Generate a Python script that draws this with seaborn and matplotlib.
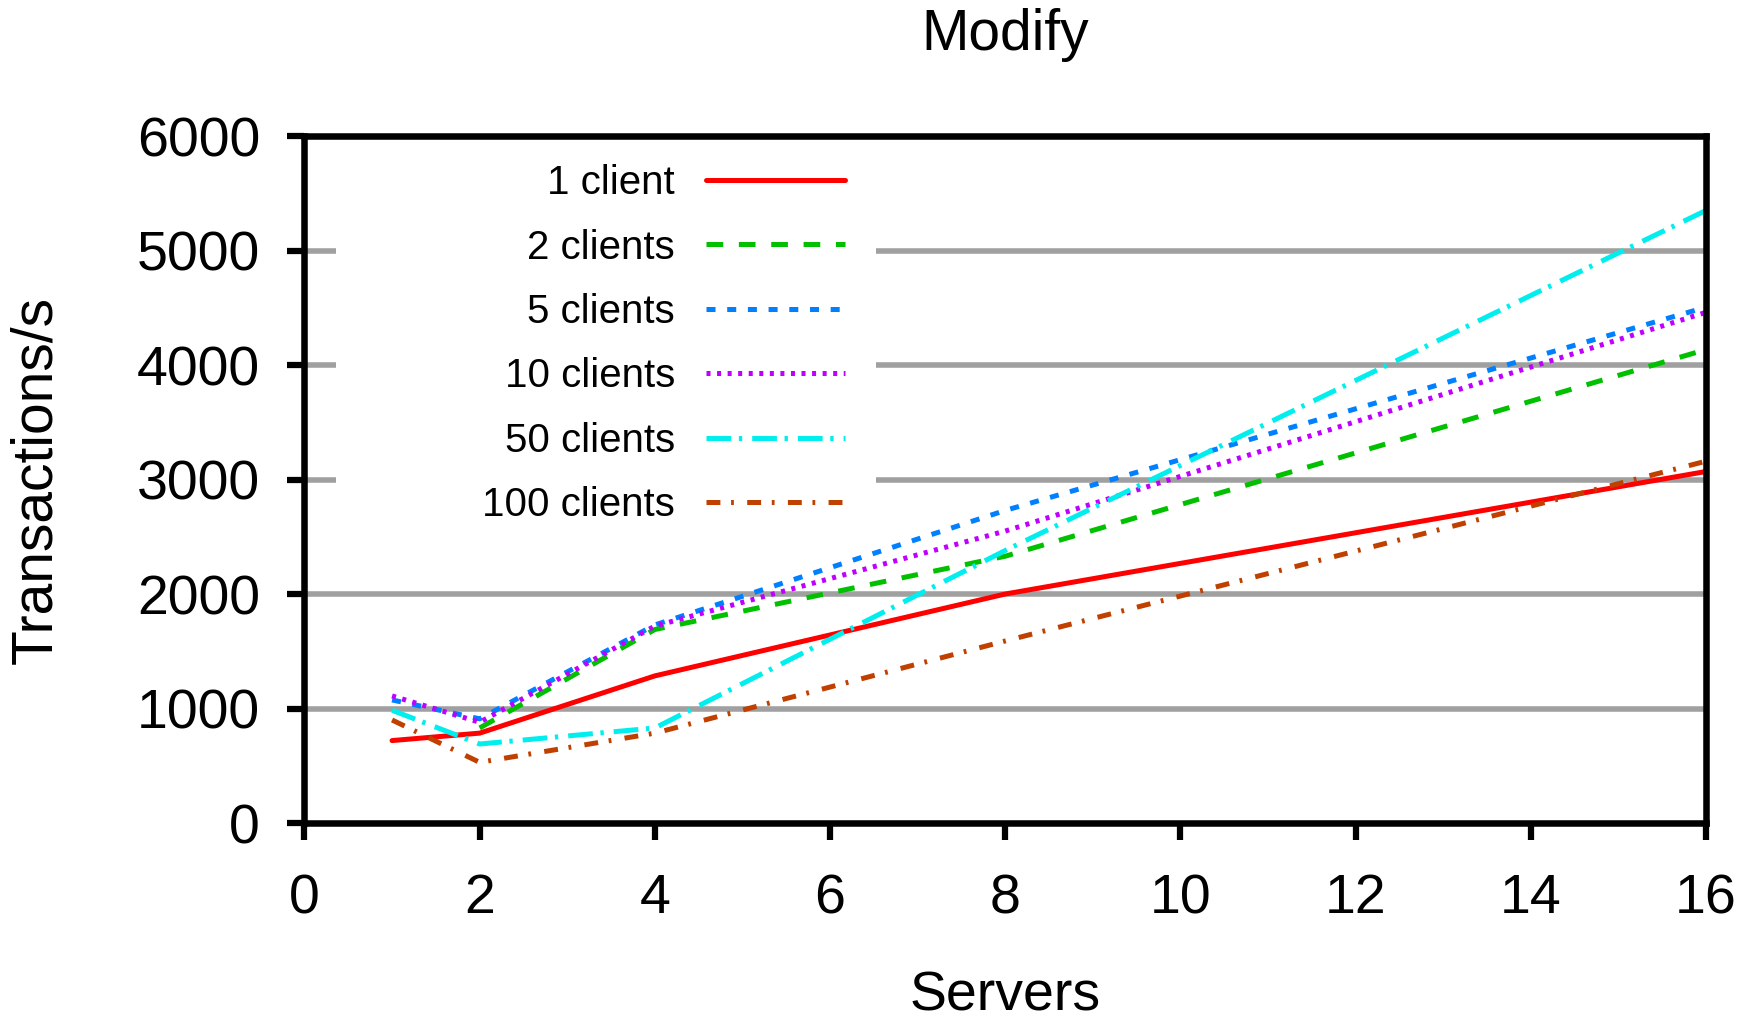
import numpy as np
import pandas as pd
import matplotlib
matplotlib.use("Agg")
import matplotlib.pyplot as plt
from matplotlib.lines import Line2D
from matplotlib.patches import Rectangle
import seaborn as sns

# data
servers = [1, 2, 4, 8, 16]
c1 = [720, 785, 1285, 2000, 3070]
c2 = [np.nan, 830, 1690, 2330, 4135]
c5 = [1075, 910, 1730, 2730, 4505]
c10 = [1110, 880, 1720, 2550, 4460]
c50 = [985, 690, 830, 2380, 5350]
c100 = [900, 530, 785, 1590, 3160]

labels = ["1 client", "2 clients", "5 clients", "10 clients", "50 clients", "100 clients"]
series = [c1, c2, c5, c10, c50, c100]

rows = []
for lab, vals in zip(labels, series):
    for s, v in zip(servers, vals):
        rows.append({"Servers": s, "tps": v, "clients": lab})
df = pd.DataFrame(rows).dropna()

colors = {"1 client": "#ff0000", "2 clients": "#00c000", "5 clients": "#0080ff",
          "10 clients": "#c000ff", "50 clients": "#00eeee", "100 clients": "#c04000"}
dashes = {"1 client": "",
          "2 clients": (12, 11.3),
          "5 clients": (6.5, 8.4),
          "10 clients": (2.9, 4.7),
          "50 clients": (17.8, 5.5, 2.4, 7.2),
          "100 clients": (10, 7.7, 2, 9.6)}

sns.set_style("white")
plt.rcParams["font.family"] = ["Liberation Sans", "DejaVu Sans"]
plt.rcParams["lines.scale_dashes"] = False
plt.rcParams["text.color"] = "black"
plt.rcParams["axes.labelcolor"] = "black"
plt.rcParams["xtick.color"] = "black"
plt.rcParams["ytick.color"] = "black"

fig = plt.figure(figsize=(17.62, 10.22), dpi=100)
ax = fig.add_axes([0.1728, 0.1947, 0.7954, 0.6722])

# grey grid, hidden behind the key box like gnuplot does
for yv in [1000, 2000, 3000, 4000, 5000]:
    ax.axhline(yv, color="#a0a0a0", lw=4, zorder=1)
ax.add_patch(Rectangle((0.36, 2500), 6.16, 3450, facecolor="white", edgecolor="none", zorder=1.5))

lw = 3.6
sns.lineplot(data=df, x="Servers", y="tps", hue="clients", style="clients",
             hue_order=labels, style_order=labels, palette=colors, dashes=dashes,
             lw=lw, legend=False, errorbar=None, ax=ax, zorder=3)

ax.set_xlim(0, 16)
ax.set_ylim(0, 6000)
ax.set_xticks(range(0, 17, 2))
ax.set_yticks(range(0, 6001, 1000))
for sp in ax.spines.values():
    sp.set_linewidth(4.7)
    sp.set_color("black")
    sp.set_zorder(4)
ax.tick_params(axis="both", direction="out", length=12, width=4.5, labelsize=40,
               bottom=True, left=True, top=False, right=False, color="black")
ax.tick_params(axis="x", pad=24)
ax.tick_params(axis="y", pad=20)

ax.set_title("Modify", fontsize=41, pad=62)
ax.set_xlabel("Servers", fontsize=40)
ax.set_ylabel("Transactions/s", fontsize=41)
ax.xaxis.set_label_coords(0.5, -0.215)
ax.yaxis.set_label_coords(-0.172, 0.5)

handles = [Line2D([0], [0], color=colors[l], lw=lw,
                  dashes=dashes[l] if dashes[l] else (None, None)) for l in labels]
handles[0] = Line2D([0], [0], color=colors["1 client"], lw=lw, ls="-")
leg = ax.legend(handles, labels, loc="upper right", bbox_to_anchor=(0.3857, 0.959),
                frameon=False, markerfirst=False, fontsize=29, handlelength=3.45,
                handletextpad=0.77, labelspacing=0.655, borderpad=0, borderaxespad=0)
leg._legend_box.align = "right"

fig.savefig("out.png", dpi=100)
